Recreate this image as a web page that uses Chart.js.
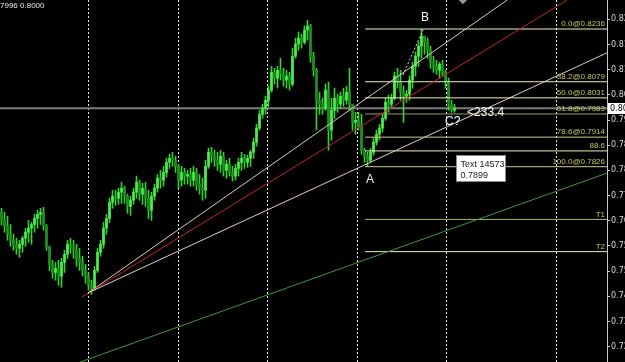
<!DOCTYPE html>
<html lang="en">
<head>
    <meta charset="UTF-8">
    <title>EURUSD H4</title>
    <script src="https://cdn.jsdelivr.net/npm/chart.js"></script>
    <style>
        body {
            margin: 0;
            padding: 0;
            background-color: #000;
            overflow: hidden;
        }
        #wrap {
            width: 625px;
            height: 362px;
        }
    </style>
</head>
<body>
    <div id="wrap"><canvas id="grafico" width="625" height="362"></canvas></div>

    <script>
        // Candele (una ogni barra, indice = posizione nel tempo)
        const opens = [
            0.7690,0.7666,0.7649,0.7625,0.7607,0.7592,0.7583,0.7595,0.7613,0.7631,
            0.7643,0.7654,0.7672,0.7684,0.7690,0.7649,0.7589,0.7535,0.7511,0.7523,
            0.7500,0.7541,0.7565,0.7595,0.7589,0.7577,0.7553,0.7541,0.7517,0.7500,
            0.7473,0.7464,0.7517,0.7571,0.7595,0.7643,0.7672,0.7720,0.7738,0.7732,
            0.7750,0.7762,0.7738,0.7708,0.7726,0.7750,0.7780,0.7744,0.7762,0.7732,
            0.7696,0.7738,0.7762,0.7792,0.7786,0.7809,0.7839,0.7851,0.7845,0.7827,
            0.7786,0.7809,0.7798,0.7803,0.7786,0.7809,0.7774,0.7762,0.7756,0.7827,
            0.7869,0.7857,0.7845,0.7833,0.7857,0.7815,0.7833,0.7809,0.7798,0.7821,
            0.7839,0.7851,0.7839,0.7851,0.7869,0.7899,0.7941,0.7982,0.8000,0.8024,
            0.8054,0.8107,0.8090,0.8113,0.8101,0.8084,0.8096,0.8072,0.8155,0.8191,
            0.8209,0.8197,0.8233,0.8245,0.8155,0.8113,0.8024,0.8012,0.8000,0.8054,
            0.7935,0.7994,0.8030,0.8012,0.8036,0.8024,0.8048,0.8012,0.7958,0.7964,
            0.7947,0.7875,0.7857,0.7845,0.7869,0.7899,0.7923,0.7941,0.7970,0.8018,
            0.8012,0.8030,0.8096,0.8078,0.8048,0.8036,0.8042,0.8084,0.8125,0.8155,
            0.8185,0.8215,0.8197,0.8173,0.8137,0.8125,0.8113,0.8131,0.8107,0.8078,
            0.8012,0.7994
        ];
        const highs = [
            0.7702,0.7690,0.7678,0.7654,0.7625,0.7613,0.7607,0.7619,0.7643,0.7666,
            0.7660,0.7684,0.7696,0.7702,0.7705,0.7654,0.7589,0.7547,0.7541,0.7547,
            0.7553,0.7577,0.7607,0.7613,0.7607,0.7595,0.7583,0.7559,0.7535,0.7511,
            0.7488,0.7529,0.7583,0.7607,0.7660,0.7684,0.7732,0.7756,0.7756,0.7762,
            0.7780,0.7768,0.7744,0.7738,0.7762,0.7798,0.7786,0.7777,0.7780,0.7756,
            0.7750,0.7774,0.7803,0.7815,0.7827,0.7851,0.7863,0.7869,0.7857,0.7833,
            0.7827,0.7821,0.7815,0.7821,0.7827,0.7821,0.7803,0.7792,0.7845,0.7881,
            0.7884,0.7875,0.7869,0.7875,0.7869,0.7845,0.7851,0.7827,0.7833,0.7851,
            0.7869,0.7863,0.7860,0.7875,0.7911,0.7952,0.7994,0.8012,0.8036,0.8066,
            0.8125,0.8119,0.8125,0.8149,0.8119,0.8113,0.8107,0.8179,0.8209,0.8227,
            0.8221,0.8245,0.8262,0.8250,0.8167,0.8119,0.8048,0.8030,0.8072,0.8078,
            0.8030,0.8060,0.8042,0.8048,0.8060,0.8066,0.8119,0.8012,0.7988,0.7988,
            0.7982,0.7881,0.7869,0.7881,0.7911,0.7935,0.7952,0.7982,0.8030,0.8039,
            0.8042,0.8107,0.8119,0.8113,0.8066,0.8054,0.8096,0.8137,0.8167,0.8197,
            0.8236,0.8215,0.8209,0.8185,0.8155,0.8143,0.8137,0.8143,0.8113,0.8090,
            0.8024,0.8012
        ];
        const lows = [
            0.7652,0.7631,0.7607,0.7589,0.7577,0.7565,0.7556,0.7571,0.7589,0.7601,
            0.7595,0.7631,0.7643,0.7654,0.7637,0.7577,0.7517,0.7494,0.7488,0.7473,
            0.7467,0.7511,0.7553,0.7568,0.7553,0.7529,0.7517,0.7500,0.7479,0.7458,
            0.7446,0.7458,0.7511,0.7559,0.7583,0.7625,0.7660,0.7702,0.7711,0.7714,
            0.7717,0.7717,0.7687,0.7681,0.7714,0.7732,0.7726,0.7714,0.7708,0.7672,
            0.7666,0.7726,0.7750,0.7762,0.7768,0.7795,0.7821,0.7827,0.7809,0.7762,
            0.7768,0.7774,0.7774,0.7768,0.7768,0.7756,0.7744,0.7726,0.7732,0.7821,
            0.7839,0.7827,0.7815,0.7809,0.7798,0.7792,0.7798,0.7783,0.7786,0.7798,
            0.7815,0.7821,0.7824,0.7827,0.7851,0.7887,0.7935,0.7970,0.7982,0.8006,
            0.8048,0.8072,0.8060,0.8084,0.8066,0.8060,0.8054,0.8066,0.8149,0.8173,
            0.8179,0.8191,0.8203,0.8137,0.8096,0.7935,0.7982,0.7982,0.7994,0.7875,
            0.7905,0.7970,0.7988,0.8000,0.8006,0.8012,0.7994,0.7935,0.7923,0.7935,
            0.7863,0.7839,0.7826,0.7839,0.7860,0.7890,0.7905,0.7929,0.7964,0.7988,
            0.8000,0.8024,0.8060,0.8024,0.7958,0.8018,0.8024,0.8060,0.8096,0.8125,
            0.8149,0.8161,0.8149,0.8119,0.8107,0.8101,0.8090,0.8096,0.8060,0.7994,
            0.7988,0.7988
        ];
        const closes = [
            0.7666,0.7649,0.7625,0.7607,0.7592,0.7583,0.7595,0.7613,0.7631,0.7643,
            0.7654,0.7672,0.7684,0.7690,0.7649,0.7589,0.7535,0.7511,0.7523,0.7500,
            0.7541,0.7565,0.7595,0.7589,0.7577,0.7553,0.7541,0.7517,0.7500,0.7473,
            0.7464,0.7517,0.7571,0.7595,0.7643,0.7672,0.7720,0.7738,0.7732,0.7750,
            0.7762,0.7738,0.7708,0.7726,0.7750,0.7780,0.7744,0.7762,0.7732,0.7696,
            0.7738,0.7762,0.7792,0.7786,0.7809,0.7839,0.7851,0.7845,0.7827,0.7786,
            0.7809,0.7798,0.7803,0.7786,0.7809,0.7774,0.7762,0.7756,0.7827,0.7869,
            0.7857,0.7845,0.7833,0.7857,0.7815,0.7833,0.7809,0.7798,0.7821,0.7839,
            0.7851,0.7839,0.7851,0.7869,0.7899,0.7941,0.7982,0.8000,0.8024,0.8054,
            0.8107,0.8090,0.8113,0.8101,0.8084,0.8096,0.8072,0.8155,0.8191,0.8209,
            0.8197,0.8233,0.8245,0.8155,0.8113,0.8024,0.8012,0.8000,0.8054,0.7935,
            0.7994,0.8030,0.8012,0.8036,0.8024,0.8048,0.8012,0.7958,0.7964,0.7947,
            0.7875,0.7857,0.7845,0.7869,0.7899,0.7923,0.7941,0.7970,0.8018,0.8012,
            0.8030,0.8096,0.8078,0.8048,0.8036,0.8042,0.8084,0.8125,0.8155,0.8185,
            0.8215,0.8197,0.8173,0.8137,0.8125,0.8113,0.8131,0.8107,0.8078,0.8012,
            0.7994,0.8000
        ];

        // Asse dei prezzi (a destra) ed etichette tagliate come nello screenshot
        const yMin = 0.72444;
        const yMax = 0.83224;
        const tickValues = [0.8265, 0.8190, 0.8115, 0.8040, 0.7965, 0.7890, 0.7815, 0.7740, 0.7665, 0.7590, 0.7515, 0.7440, 0.7365, 0.7290];
        const tickLabels = ['0.82', '0.81', '0.81', '0.80', '0.79', '0.78', '0.78', '0.77', '0.76', '0.75', '0.75', '0.74', '0.73', '0.72'];
        const bidPrice = 0.8000;
        const bidLabel = '0.80';

        // Separatori di periodo (posizione in barre)
        const separatori = [28.8, 58.8, 88.5, 118.5, 148.2, 184.8];

        // Livelli di Fibonacci
        const fibPrices = [0.8236, 0.8079, 0.8031, 0.7983, 0.7914, 0.7873, 0.7826, 0.7669, 0.7573];
        const fibLabels = ['0.0@0.8236', '38.2@0.8079', '50.0@0.8031', '61.8@0.7983', '78.6@0.7914', '88.6', '100.0@0.7826', 'T1', 'T2'];
        const fibColors = ['#efefb8', '#efefb8', '#efefb8', '#9c9c5c', '#c9c98e', '#efefb8', '#c9c98e', '#b0b468', '#efefb8'];
        const fibStart = 121.2;

        // Linee di tendenza [barra, prezzo]
        const lineaAlta = [[28.8, 0.7450], [168.5, 0.8322]];
        const lineaRossa = [[26.8, 0.7438], [188.5, 0.8322]];
        const lineaBassa = [[28.8, 0.7450], [201.8, 0.8165]];
        const lineaVerde = [[26.2, 0.7244], [201.8, 0.7807]];
        const lineaAB = [[133.8, 0.8099], [140.5, 0.8233]];

        const xMin = -0.5;
        const xMax = 201.83;

        const indici = opens.map((_, i) => i);
        const rialzo = indici.map(i => closes[i] >= opens[i]);

        function segmento(punti) {
            return punti.map(p => ({ x: p[0], y: p[1] }));
        }

        function linea(punti, colore, extra) {
            return Object.assign({
                type: 'line',
                data: segmento(punti),
                borderColor: colore,
                borderWidth: 1,
                pointRadius: 0,
                fill: false,
                tension: 0,
                order: 1
            }, extra || {});
        }

        const datasets = [
            // linea del prezzo bid, dietro alle candele
            linea([[xMin, bidPrice], [xMax, bidPrice]], '#7c7c7c', { borderWidth: 2, order: 30 }),
            {
                type: 'bar',
                data: indici.map(i => ({ x: i, y: [lows[i], highs[i]] })),
                backgroundColor: '#36cf36',
                barThickness: 1,
                grouped: false,
                order: 20
            },
            {
                type: 'bar',
                data: indici.map(i => ({ x: i, y: [opens[i], closes[i]] })),
                backgroundColor: indici.map(i => rialzo[i] ? '#4cef4c' : '#1f8f1f'),
                barThickness: 2,
                grouped: false,
                order: 19
            },
            linea(lineaVerde, '#3c9a3c'),
            linea(lineaBassa, '#e2cfc6'),
            linea(lineaRossa, '#c42424'),
            linea(lineaAlta, '#d9cbbd'),
            linea(lineaAB, '#e8e0c0', { borderDash: [2, 2] })
        ];
        fibPrices.forEach((p, k) => {
            datasets.push(linea([[fibStart, p], [xMax, p]], fibColors[k]));
        });

        const overlay = {
            id: 'overlay',
            beforeDraw(chart) {
                const c = chart.ctx;
                c.save();
                c.fillStyle = '#000';
                c.fillRect(0, 0, chart.width, chart.height);
                c.restore();
            },
            beforeDatasetsDraw(chart) {
                const c = chart.ctx;
                const xs = chart.scales.x;
                const area = chart.chartArea;
                c.save();
                c.strokeStyle = '#e8e8e8';
                c.lineWidth = 1;
                c.setLineDash([2, 2]);
                separatori.forEach(b => {
                    const px = Math.round(xs.getPixelForValue(b)) + 0.5;
                    c.beginPath();
                    c.moveTo(px, area.top);
                    c.lineTo(px, area.bottom);
                    c.stroke();
                });
                c.restore();
            },
            afterDatasetsDraw(chart) {
                const c = chart.ctx;
                const xs = chart.scales.x;
                const ys = chart.scales.y;
                const area = chart.chartArea;
                c.save();

                // etichette Fibonacci
                c.font = "8px 'Liberation Sans Narrow', 'Liberation Sans', sans-serif";
                c.fillStyle = '#c4c85a';
                c.textAlign = 'right';
                c.textBaseline = 'bottom';
                fibPrices.forEach((p, k) => {
                    c.fillText(fibLabels[k], area.right - 2, ys.getPixelForValue(p) - 1);
                });

                // lettere A B C
                c.fillStyle = '#f4f4f4';
                c.font = "12px 'Liberation Sans', sans-serif";
                c.textAlign = 'center';
                c.textBaseline = 'middle';
                c.fillText('B', xs.getPixelForValue(141.2), ys.getPixelForValue(0.8269));
                c.fillText('A', xs.getPixelForValue(122.8), ys.getPixelForValue(0.7786));
                c.fillText('C?', xs.getPixelForValue(150.4), ys.getPixelForValue(0.7961));
                c.textAlign = 'left';
                c.fillText('<233.4', xs.getPixelForValue(155.2), ys.getPixelForValue(0.7986));

                // riquadro testo
                const bx = Math.round(xs.getPixelForValue(151.5)) + 0.5;
                const by = Math.round(ys.getPixelForValue(0.7861)) + 0.5;
                c.fillStyle = '#ffffff';
                c.fillRect(bx, by, 49, 26);
                c.strokeStyle = '#8a8a8a';
                c.strokeRect(bx, by, 49, 26);
                c.fillStyle = '#202020';
                c.font = "9px 'Liberation Sans', sans-serif";
                c.textBaseline = 'alphabetic';
                c.fillText('Text 14573', bx + 4, by + 11);
                c.fillText('0.7899', bx + 4, by + 22);

                // segnaposto grigio in alto
                const dx = xs.getPixelForValue(153.8);
                const dy = ys.getPixelForValue(0.8325);
                c.fillStyle = '#9a9a9a';
                c.beginPath();
                c.moveTo(dx - 5, dy);
                c.lineTo(dx, dy - 5);
                c.lineTo(dx + 5, dy);
                c.lineTo(dx, dy + 5);
                c.closePath();
                c.fill();

                // intestazione in alto a sinistra
                c.fillStyle = '#e8e8e8';
                c.font = "8px 'Liberation Sans', sans-serif";
                c.textBaseline = 'top';
                c.fillText('7996 0.8000', 0, 2);

                // etichetta del prezzo corrente sull'asse
                const yb = Math.round(ys.getPixelForValue(bidPrice));
                c.fillStyle = '#ffffff';
                c.fillRect(area.right + 1, yb - 5, 20, 11);
                c.fillStyle = '#000';
                c.font = "8px 'DejaVu Sans', sans-serif";
                c.textBaseline = 'middle';
                c.fillText(bidLabel, area.right + 3, yb + 0.5);
                c.restore();
            }
        };

        const ctx = document.getElementById('grafico').getContext('2d');
        const chart = new Chart(ctx, {
            data: { datasets: datasets },
            options: {
                responsive: false,
                animation: false,
                devicePixelRatio: 1,
                events: [],
                layout: { padding: 0 },
                plugins: {
                    legend: { display: false },
                    tooltip: { enabled: false }
                },
                scales: {
                    x: {
                        type: 'linear',
                        min: xMin,
                        max: xMax,
                        display: false,
                        offset: false
                    },
                    y: {
                        position: 'right',
                        min: yMin,
                        max: yMax,
                        afterBuildTicks: s => { s.ticks = tickValues.map(v => ({ value: v })); },
                        afterFit: s => {
                            s.width = 18;
                            s.paddingTop = 0;
                            s.paddingBottom = 0;
                        },
                        border: { color: '#c8c8c8', width: 1 },
                        grid: { drawOnChartArea: false, drawTicks: true, tickLength: 3, color: '#c8c8c8' },
                        ticks: {
                            color: '#d8d8d8',
                            font: { family: 'DejaVu Sans', size: 8 },
                            padding: 1,
                            autoSkip: false,
                            callback: (v, i) => tickLabels[i]
                        }
                    }
                }
            },
            plugins: [overlay]
        });
    </script>
</body>
</html>
